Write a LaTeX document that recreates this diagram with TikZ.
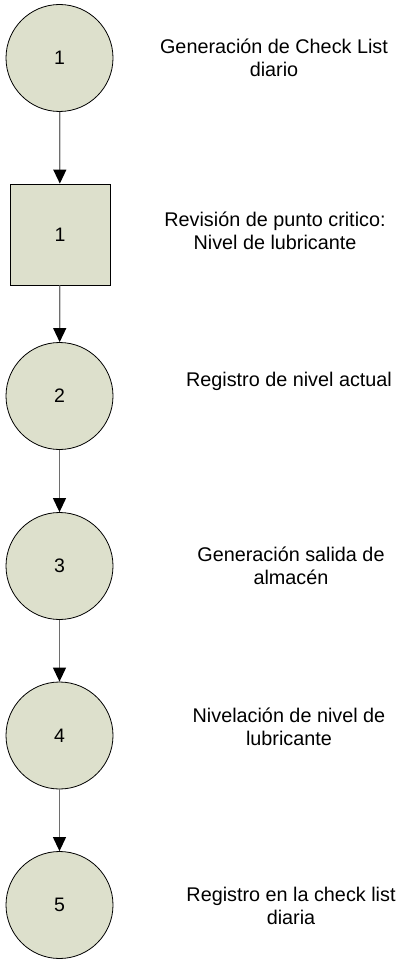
\documentclass[tikz,border=0pt]{standalone}
\usepackage{fontspec}
\setmainfont{Liberation Sans}
\usetikzlibrary{arrows.meta}
\definecolor{shapefill}{RGB}{221,224,204}
\definecolor{linegrey}{RGB}{110,110,110}
\tikzset{
  stepcircle/.style={circle, draw=black, line width=0.8pt, fill=shapefill, minimum size=107pt, inner sep=0pt, font=\fontsize{19.5}{23}\selectfont},
  stepsquare/.style={rectangle, draw=black, line width=0.8pt, fill=shapefill, minimum width=100pt, minimum height=101pt, inner sep=0pt, font=\fontsize{19.5}{23}\selectfont},
  desc/.style={align=center, inner sep=0pt, font=\fontsize{19.8}{23.5}\selectfont},
  flow/.style={draw=linegrey, line width=1.2pt, -{Triangle[width=13pt,length=14pt,color=black]}}
}
\begin{document}
\begin{tikzpicture}[x=1pt,y=-1pt]
\useasboundingbox (0,0) rectangle (398,960);
\node[stepcircle] (c1) at (59.5,58) {1};
\node[stepsquare] (s1) at (60,234.5) {1};
\node[stepcircle] (c2) at (59.5,396) {2};
\node[stepcircle] (c3) at (59.5,566) {3};
\node[stepcircle] (c4) at (59.5,735.5) {4};
\node[stepcircle] (c5) at (59.5,905) {5};
\draw[flow] (c1) -- (s1);
\draw[flow] (s1) -- (c2);
\draw[flow] (c2) -- (c3);
\draw[flow] (c3) -- (c4);
\draw[flow] (c4) -- (c5);
\node[desc] (t1) at (274,58) {Generación de Check List\\diario};
\node[desc] (t2) at (275,231) {Revisión de punto critico:\\Nivel de lubricante};
\node[desc] (t3) at (289,381) {Registro de nivel actual};
\node[desc] (t4) at (291,566) {Generación salida de\\almacén};
\node[desc] (t5) at (289,727) {Nivelación de nivel de\\lubricante};
\node[desc] (t6) at (291,906) {Registro en la check list\\diaria};
\end{tikzpicture}
\end{document}
